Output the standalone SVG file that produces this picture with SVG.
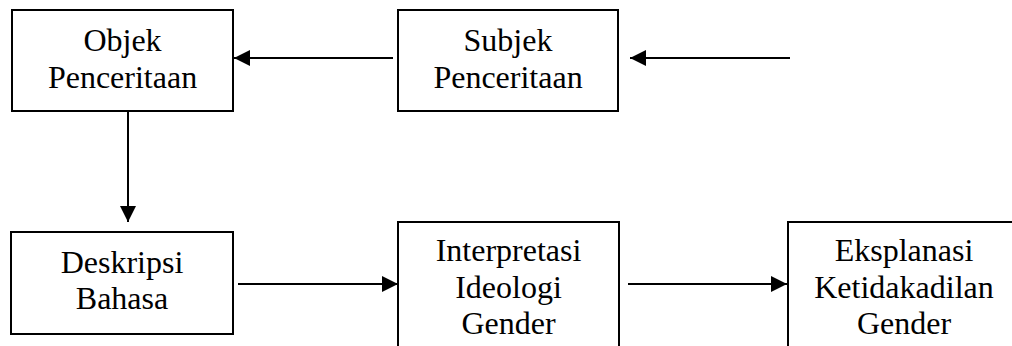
<svg xmlns="http://www.w3.org/2000/svg" width="1012" height="346" viewBox="0 0 1012 346">
<style>
.box{fill:#fff;stroke:#000;stroke-width:2}
.lbl{font-family:"Liberation Serif","Times New Roman",serif;font-size:32px;fill:#000;text-anchor:middle}
.con{stroke:#000;stroke-width:2;fill:none}
</style>
<defs>
<marker id="ah" viewBox="0 0 16 16" refX="16" refY="8" markerWidth="16" markerHeight="16" markerUnits="userSpaceOnUse" orient="auto">
<path d="M0,0 L16,8 L0,16 z" fill="#000"/>
</marker>
</defs>
<rect width="1012" height="346" fill="#fff"/>
<g id="objek">
<rect class="box" x="12" y="10" width="221" height="101"/>
<text class="lbl" x="122.5" y="51">Objek</text>
<text class="lbl" x="122.5" y="88">Penceritaan</text>
</g>
<g id="subjek">
<rect class="box" x="398" y="10" width="220" height="101"/>
<text class="lbl" x="508" y="51">Subjek</text>
<text class="lbl" x="508" y="88">Penceritaan</text>
</g>
<g id="deskripsi">
<rect class="box" x="11" y="232" width="222" height="102"/>
<text class="lbl" x="122" y="273">Deskripsi</text>
<text class="lbl" x="122" y="309">Bahasa</text>
</g>
<g id="interpretasi">
<rect class="box" x="398" y="222" width="221" height="140"/>
<text class="lbl" x="508.5" y="261">Interpretasi</text>
<text class="lbl" x="508.5" y="297.5">Ideologi</text>
<text class="lbl" x="508.5" y="334">Gender</text>
</g>
<g id="eksplanasi">
<rect class="box" x="788" y="222" width="232" height="140"/>
<text class="lbl" x="904" y="261">Eksplanasi</text>
<text class="lbl" x="904" y="297.5">Ketidakadilan</text>
<text class="lbl" x="904" y="334">Gender</text>
</g>
<g id="connectors">
<line class="con" x1="393" y1="58" x2="234" y2="58" marker-end="url(#ah)"/>
<line class="con" x1="790" y1="58" x2="630" y2="58" marker-end="url(#ah)"/>
<line class="con" x1="128" y1="111" x2="128" y2="222" marker-end="url(#ah)"/>
<line class="con" x1="238" y1="284" x2="398" y2="284" marker-end="url(#ah)"/>
<line class="con" x1="628" y1="284" x2="787" y2="284" marker-end="url(#ah)"/>
</g>
</svg>
